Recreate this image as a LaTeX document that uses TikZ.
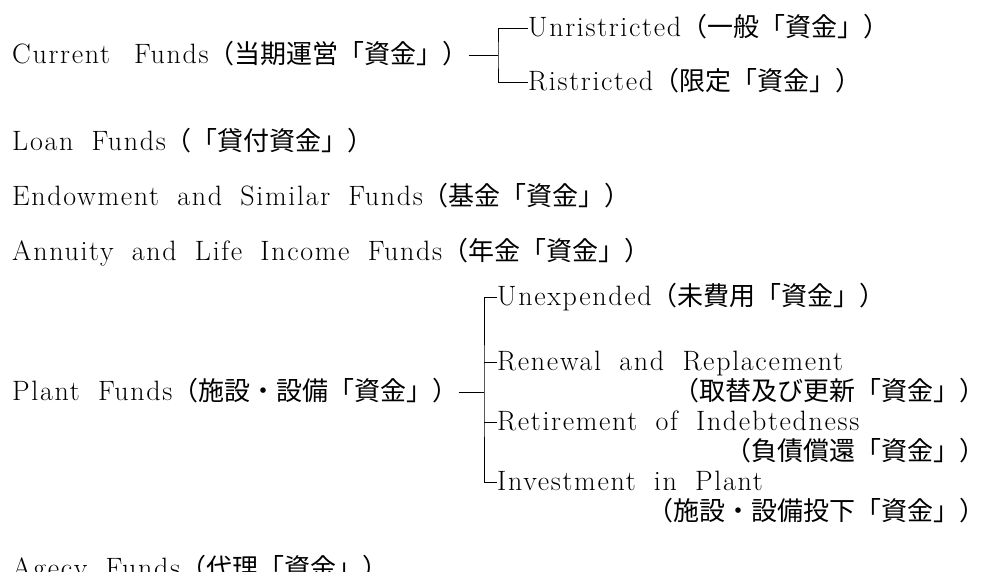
\documentclass[tikz,border=0pt]{standalone}
\usepackage{fontspec}
\setmainfont{Latin Modern Roman}[LetterSpace=6, WordSpace=1.8]
\newfontfamily\cjk{Noto Sans CJK JP}
\newcommand{\jp}[1]{{\fontsize{26pt}{28pt}\cjk #1}}
\begin{document}
\begin{tikzpicture}[x=1pt,y=-1pt,
  lbl/.style={anchor=base west, inner sep=0pt, font=\fontsize{28pt}{30pt}\selectfont},
  lblr/.style={lbl, anchor=base east},
  link/.style={line width=0.8pt, black}]
\useasboundingbox (0,0) rectangle (986,571);
% Current funds
\node[lbl] (cur) at (12,63) {Current\hspace{6pt} Funds\jp{（当期運営「資金」）}};
\node[lbl] (unr) at (528,36) {Unristricted\jp{（一般「資金」）}};
\node[lbl] (rst) at (528,90) {Ristricted\jp{（限定「資金」）}};
\coordinate (cstem) at (498,55);
\coordinate (curT) at ([yshift=8pt]cur.base east);
\coordinate (unrT) at ([yshift=8pt]unr.base west);
\coordinate (rstT) at ([yshift=8pt]rst.base west);
\draw[link] (curT) -- (cstem);
\draw[link] (unrT) -| (cstem) |- (rstT);
% simple funds
\node[lbl] (loan) at (12,150) {Loan Funds\jp{（「貸付資金」）}};
\node[lbl] (endw) at (12,205) {Endowment and Similar Funds\jp{（基金「資金」）}};
\node[lbl] (ann) at (12,260) {Annuity and Life Income Funds\jp{（年金「資金」）}};
% Plant funds
\node[lbl] (plant) at (12,400) {Plant Funds\jp{（施設・設備「資金」）}};
\node[lbl] (unx) at (497,305) {Unexpended\jp{（未費用「資金」）}};
\node[lbl] (ren) at (497,370) {Renewal and Replacement};
\node[lblr] (renj) at (986,400) {\jp{（取替及び更新「資金」）}};
\node[lbl] (ret) at (497,430) {Retirement of Indebtedness};
\node[lblr] (retj) at (986,460) {\jp{（負債償還「資金」）}};
\node[lbl] (inv) at (497,490) {Investment in Plant};
\node[lblr] (invj) at (986,520) {\jp{（施設・設備投下「資金」）}};
\coordinate (pstem) at (484,392);
\coordinate (plantT) at ([yshift=8pt]plant.base east);
\coordinate (unxT) at ([yshift=8pt]unx.base west);
\coordinate (renT) at ([yshift=8pt]ren.base west);
\coordinate (retT) at ([yshift=8pt]ret.base west);
\coordinate (invT) at ([yshift=8pt]inv.base west);
\draw[link] (plantT) -- (pstem);
\draw[link] (unxT) -| (pstem) |- (invT);
\draw[link] (renT) -- (renT -| pstem);
\draw[link] (retT) -- (retT -| pstem);
% Agency
\node[lbl] (agc) at (12,577) {Agecy Funds\jp{（代理「資金」）}};
\end{tikzpicture}
\end{document}
